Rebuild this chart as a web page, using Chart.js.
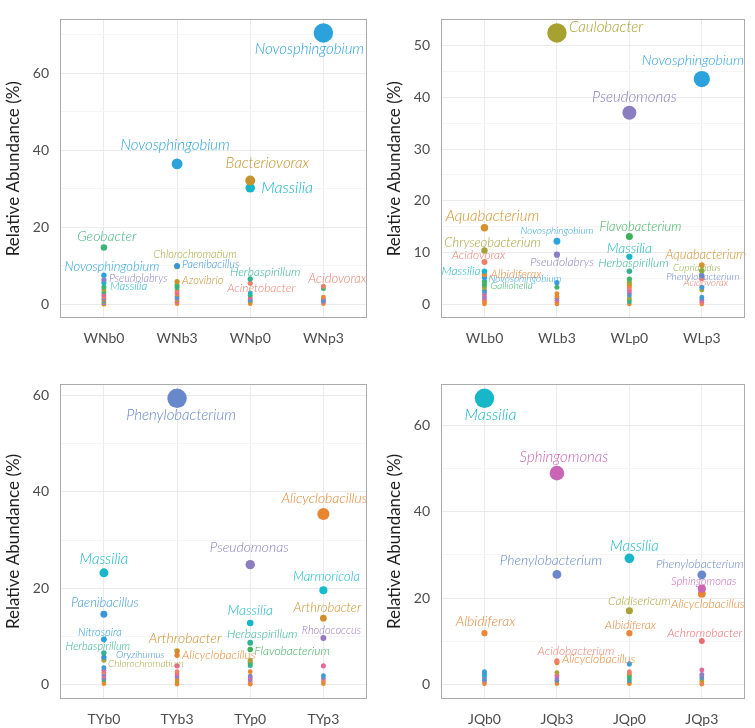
<!DOCTYPE html>
<html><head><meta charset="utf-8">
<script src="https://cdn.jsdelivr.net/npm/chart.js@4.4.1/dist/chart.umd.min.js"></script>
<style>
html,body{margin:0;padding:0;background:#fff;width:755px;height:728px;overflow:hidden}
canvas{position:absolute;display:block}
</style></head><body>
<canvas id="p1" width="377" height="364" style="left:0;top:0;width:377px;height:364px"></canvas>
<canvas id="p2" width="378" height="364" style="left:377px;top:0;width:378px;height:364px"></canvas>
<canvas id="p3" width="377" height="364" style="left:0;top:364px;width:377px;height:364px"></canvas>
<canvas id="p4" width="378" height="364" style="left:377px;top:364px;width:378px;height:364px"></canvas>
<script>
// ---------------- DATA ----------------
const wnCategories = ['WNb0','WNb3','WNp0','WNp3'];
const wnValues = [
  [14.8, 7.6, 6.4, 5.6, 4.5, 3.9, 3.2, 2.8, 2.4, 2.0, 1.6, 1.3, 1.0, 0.7, 0.4, 0.2, 0.05],
  [36.5, 10.0, 9.9, 5.9, 4.9, 4.3, 3.7, 3.1, 2.6, 2.1, 1.6, 1.2, 0.8, 0.5, 0.2],
  [32.2, 30.3, 6.6, 5.5, 3.0, 2.4, 1.9, 1.5, 1.1, 0.8, 0.5, 0.2],
  [70.5, 4.7, 4.1, 1.9, 1.5, 1.1, 0.8, 0.5, 0.2]
];
const wnLabels = [
  ['Geobacter','Novosphingobium','Pseudolabrys','Massilia'],
  ['Novosphingobium','Paenibacillus','Chlorochromatium','Azovibrio'],
  ['Bacteriovorax','Massilia','Herbaspirillum','Acinetobacter'],
  ['Novosphingobium','Acidovorax']
];

const wlCategories = ['WLb0','WLb3','WLp0','WLp3'];
const wlValues = [
  [14.8, 10.4, 8.2, 6.4, 5.8, 5.2, 4.4, 3.8, 3.2, 2.7, 2.3, 1.9, 1.5, 1.1, 0.8, 0.4, 0.1],
  [52.4, 12.2, 9.6, 4.2, 3.3, 2.1, 1.6, 1.2, 0.8, 0.4, 0.1],
  [37.0, 13.1, 9.2, 6.4, 4.9, 4.2, 3.7, 3.2, 2.7, 2.2, 1.8, 1.3, 0.9, 0.5, 0.1],
  [43.5, 7.6, 6.5, 5.6, 5.0, 3.3, 2.8, 1.4, 1.0, 0.7, 0.4, 0.1]
];
const wlLabels = [
  ['Aquabacterium','Chryseobacterium','Acidovorax','Massilia','Albidiferax','Novosphingobium','Gallionella'],
  ['Caulobacter','Novosphingobium','Pseudolabrys'],
  ['Pseudomonas','Flavobacterium','Massilia','Herbaspirillum'],
  ['Novosphingobium','Aquabacterium','Cupriavidus','Phenylobacterium','Acidovorax']
];

const tyCategories = ['TYb0','TYb3','TYp0','TYp3'];
const tyValues = [
  [23.2, 14.6, 9.4, 6.6, 5.7, 5.1, 3.5, 3.0, 2.6, 2.2, 1.8, 1.4, 1.0, 0.6, 0.2],
  [59.4, 7.0, 6.1, 3.9, 2.7, 2.2, 1.7, 1.2, 0.8, 0.4, 0.1],
  [24.9, 12.8, 8.7, 7.3, 5.0, 4.5, 4.0, 2.7, 1.8, 1.5, 1.1, 0.7, 0.3, 0.1],
  [35.4, 19.6, 13.8, 9.7, 3.9, 1.9, 1.4, 1.0, 0.6, 0.2]
];
const tyLabels = [
  ['Massilia','Paenibacillus','Nitrospira','Herbaspirillum','Oryzihumus','Chlorochromatium'],
  ['Phenylobacterium','Arthrobacter','Alicyclobacillus'],
  ['Pseudomonas','Massilia','Herbaspirillum','Flavobacterium'],
  ['Alicyclobacillus','Marmoricola','Arthrobacter','Rhodococcus']
];

const jqCategories = ['JQb0','JQb3','JQp0','JQp3'];
const jqValues = [
  [66.2, 11.9, 3.0, 2.6, 2.2, 1.8, 1.4, 1.0, 0.6, 0.2],
  [48.9, 25.5, 5.5, 5.1, 2.8, 2.2, 1.8, 1.3, 1.0, 0.6, 0.2],
  [29.2, 17.1, 11.9, 4.8, 3.0, 2.6, 2.1, 1.8, 1.3, 0.9, 0.5, 0.2],
  [25.4, 22.2, 21.0, 10.1, 3.4, 2.4, 2.0, 1.6, 1.2, 0.8, 0.4, 0.1]
];
const jqLabels = [
  ['Massilia','Albidiferax'],
  ['Sphingomonas','Phenylobacterium','Acidobacterium','Alicyclobacillus'],
  ['Massilia','Caldisericum','Albidiferax'],
  ['Phenylobacterium','Sphingomonas','Alicyclobacillus','Achromobacter']
];

// ---------------- STYLE ----------------
const GENUS_COLORS = {
  Acidovorax:'#ee7f6c', Acinetobacter:'#ef7e68', Acidobacterium:'#ef7f6a', Achromobacter:'#ec6b6e',
  Albidiferax:'#e9863a', Alicyclobacillus:'#e8852f', Aquabacterium:'#d4912c', Arthrobacter:'#cf8e2b',
  Azovibrio:'#c8912d', Bacteriovorax:'#c49430',
  Caldisericum:'#aba234', Caulobacter:'#a7a131', Chlorochromatium:'#a7a53b', Chryseobacterium:'#a3a23c',
  Cupriavidus:'#8dac3e', Flavobacterium:'#3db05b', Gallionella:'#3bb36f', Geobacter:'#40b47a',
  Herbaspirillum:'#30b293', Marmoricola:'#16bcd0', Massilia:'#17b6c9', Nitrospira:'#2b9fda',
  Novosphingobium:'#2ba2dc', Oryzihumus:'#3d92d6', Paenibacillus:'#3896d6', Phenylobacterium:'#6788ca',
  Pseudolabrys:'#8b7fc6', Pseudomonas:'#8a7dc0', Rhodococcus:'#9b78c0', Sphingomonas:'#c965b4'
};
const DOT = {k:'#e8679d', s:'#ef806c', o:'#e8892f', l:'#a9a23a', g:'#3db46f', t:'#2fb296', b:'#3d9bd8', p:'#8e80c4', c:'#18b7ca'};
// colours of unlabelled small dots (after the labelled ones, per category)
const wnDotColors = [
  ['g','l','g','k','k','s','p','o','b','l','p','o','o'],
  ['g','g','s','k','o','b','p','l','k','o','o'],
  ['c','g','k','p','b','l','o','o'],
  ['g','o','p','b','p','s','o']
];
const wlDotColors = [
  ['g','l','b','p','k','p','k','o','o','o'],
  ['b','g','o','o','p','k','o','o'],
  ['g','l','o','s','k','p','b','l','g','t','o'],
  ['b','l','b','p','k','s','o']
];
const tyDotColors = [
  ['b','k','s','p','k','p','g','o','o'],
  ['k','s','k','p','o','l','o','o'],
  ['l','g','t','o','p','k','p','s','o','o'],
  ['k','b','p','s','o','o']
];
const jqDotColors = [
  ['b','b','c','p','b','p','o','o'],
  ['l','k','p','p','b','o','o'],
  ['b','s','o','g','g','t','b','o','o'],
  ['k','p','p','b','l','o','s','o']
];
// label placement: [dx, dy, fontSize, align]
const wnLabelPos = [
  [[3,-11,14,'c'],[8,-8,13,'c'],[5,-1,11,'l'],[6,3,11.5,'l']],
  [[-2,-19,15,'c'],[5,-1,11,'l'],[18,-12,11,'c'],[5,-1,11,'l']],
  [[17,-17,15,'c'],[11,0,16,'l'],[15,-7,12,'c'],[11,5,12,'c']],
  [[-14,16,15,'c'],[14,-8,13,'c']]
];
const wlLabelPos = [
  [[8,-12,15,'c'],[8,-8,13,'c'],[-6,-7,12,'c'],[-4,0,12,'r'],[6,0,12,'l'],[4,1,10,'l'],[6,4,10,'l']],
  [[12,-6,15,'l'],[0,-10,10,'c'],[5,7,12,'c']],
  [[5,-16,15,'c'],[11,-10,13,'c'],[0,-8,14,'c'],[4,-8,12,'c']],
  [[-9,-19,14,'c'],[4,-10,13,'c'],[-5,-3,10,'c'],[1,1,10,'c'],[4,4,10,'c']]
];
const tyLabelPos = [
  [[0,-14,15,'c'],[1,-11,13,'c'],[-4,-7,11,'c'],[-6,-6,11,'c'],[12,-2,10,'l'],[4,4,10,'l']],
  [[4,17,15,'c'],[8,-12,14,'c'],[5,0,12,'l']],
  [[-1,-17,14,'c'],[0,-12,14,'c'],[12,-9,12,'c'],[4,2,12,'l']],
  [[1,-16,14,'c'],[3,-13,13,'c'],[4,-10,13,'c'],[8,-7,11,'c']]
];
const jqLabelPos = [
  [[6,17,16,'c'],[1,-12,14,'c']],
  [[7,-16,15,'c'],[-6,-14,14,'c'],[19,-10,12,'c'],[5,-3,12,'l']],
  [[5,-12,15,'c'],[10,-10,12,'c'],[1,-8,12,'c']],
  [[-2,-11,12,'c'],[2,-7,11,'c'],[6,10,12,'c'],[3,-8,12,'c']]
];

const FONT = 'Lato, "Open Sans", sans-serif';

function buildPanel(id, cats, values, labels, dotColors, labelPos, yStep, area, titleX) {
  const canvas = document.getElementById(id);
  const W = canvas.width, H = canvas.height;
  const vmax = Math.max(...values.flat());
  const pts = [];
  values.forEach((arr, ci) => arr.forEach((v, j) => {
    const nl = labels[ci].length;
    const lab = j < nl ? labels[ci][j] : '';
    const color = lab ? GENUS_COLORS[lab] : DOT[dotColors[ci][j - nl]];
    pts.push({x: ci, y: v, r: 2.3 + 7.4 * Math.pow(v / vmax, 1.3), color, lab, pos: lab ? labelPos[ci][j] : null});
  }));
  pts.sort((a, b) => a.y - b.y);

  const half = yStep / 2;
  const isMajor = v => Math.abs(v / yStep - Math.round(v / yStep)) < 1e-6;

  const deco = {
    id: 'deco',
    afterDatasetsDraw(chart) {
      const c = chart.ctx, xs = chart.scales.x, ys = chart.scales.y, ca = chart.chartArea;
      c.save();
      c.textBaseline = 'middle';
      pts.forEach(p => {
        if (!p.lab) return;
        const [dx, dy, fs, al] = p.pos;
        c.font = 'italic 300 ' + fs + 'px ' + FONT;
        c.fillStyle = p.color;
        c.textAlign = al === 'l' ? 'left' : (al === 'r' ? 'right' : 'center');
        c.fillText(p.lab, xs.getPixelForValue(p.x) + dx, ys.getPixelForValue(p.y) + dy);
      });
      c.restore();
      c.save();
      c.strokeStyle = '#ababab';
      c.lineWidth = 1;
      c.strokeRect(Math.round(ca.left) + 0.5, Math.round(ca.top) + 0.5, Math.round(ca.right - ca.left) - 1, Math.round(ca.bottom - ca.top) - 1);
      c.restore();
      c.save();
      c.translate(titleX, (ca.top + ca.bottom) / 2);
      c.rotate(-Math.PI / 2);
      c.font = '17px ' + FONT;
      c.fillStyle = '#1f1f1f';
      c.textAlign = 'center';
      c.textBaseline = 'middle';
      c.fillText('Relative Abundance (%)', 0, 0);
      c.restore();
    }
  };

  new Chart(canvas, {
    type: 'scatter',
    data: {datasets: [{
      data: pts,
      pointRadius: pts.map(p => p.r),
      pointHoverRadius: pts.map(p => p.r),
      backgroundColor: pts.map(p => p.color),
      pointBorderWidth: 0,
      borderWidth: 0
    }]},
    options: {
      responsive: false, animation: false, events: [],
      layout: {padding: {left: 0, top: area.t, right: W - area.r, bottom: 0}},
      plugins: {legend: {display: false}, tooltip: {enabled: false}},
      scales: {
        x: {
          type: 'linear', min: -0.6, max: 3.6,
          afterBuildTicks: s => { s.ticks = cats.map((_, i) => ({value: i})); },
          afterFit: s => { s.height = H - area.b; },
          ticks: {callback: v => cats[v], font: {family: FONT, size: 14}, color: '#4d4d4d', padding: 12, autoSkip: false, maxRotation: 0},
          grid: {color: '#ebebeb', drawTicks: false},
          border: {display: false}
        },
        y: {
          type: 'linear', min: -0.05 * vmax, max: 1.05 * vmax,
          afterBuildTicks: s => {
            const t = [];
            for (let v = Math.ceil(s.min / half) * half; v <= s.max + 1e-9; v += half) t.push({value: Math.round(v * 1000) / 1000});
            s.ticks = t;
          },
          afterFit: s => { s.width = area.l; },
          ticks: {callback: v => isMajor(v) ? String(Math.round(v)) : '', font: {family: FONT, size: 14}, color: '#4d4d4d', padding: 11, autoSkip: false},
          grid: {color: c => (c.tick && isMajor(c.tick.value)) ? '#ebebeb' : '#f5f5f5', drawTicks: false},
          border: {display: false}
        }
      }
    },
    plugins: [deco]
  });
}

buildPanel('p1', wnCategories, wnValues, wnLabels, wnDotColors, wnLabelPos, 20, {l: 60, t: 4, r: 369, b: 318}, 14);
buildPanel('p2', wlCategories, wlValues, wlLabels, wlDotColors, wlLabelPos, 10, {l: 64, t: 4, r: 374, b: 318}, 18);
buildPanel('p3', tyCategories, tyValues, tyLabels, tyDotColors, tyLabelPos, 20, {l: 60, t: 20, r: 369, b: 335}, 14);
buildPanel('p4', jqCategories, jqValues, jqLabels, jqDotColors, jqLabelPos, 20, {l: 64, t: 20, r: 374, b: 335}, 18);
</script>
</body></html>
